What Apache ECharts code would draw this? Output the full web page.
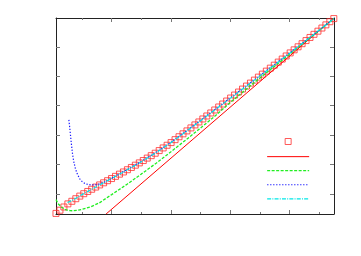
<!DOCTYPE html>
<html>
<head>
<meta charset="utf-8">
<script src="https://cdn.jsdelivr.net/npm/echarts@6/dist/echarts.min.js"></script>
<style>
html,body{margin:0;padding:0;background:#fff;}
#c{width:361px;height:256px;}
</style>
</head>
<body>
<div id="c"></div>
<script>
// ---- data ----
const markerX = [0.12,0.254,0.388,0.522,0.656,0.79,0.924,1.058,1.192,1.326,1.46,1.594,1.728,1.862,1.996,2.13,2.264,2.398,2.532,2.666,2.8,2.934,3.068,3.202,3.336,3.47,3.604,3.738,3.872,4.006,4.14,4.274,4.408,4.542,4.676,4.81,4.944,5.078,5.212,5.346,5.48,5.614,5.748,5.882,6.016,6.15,6.284,6.418,6.552,6.686,6.82,6.954,7.088,7.222,7.356,7.49,7.624,7.758,7.892,8.026,8.16,8.294,8.428,8.562,8.696,8.83,8.964,9.098,9.232,9.366,9.5];
const markerY = [0.33,0.439,0.549,0.655,0.743,0.831,0.92,1.002,1.078,1.153,1.228,1.301,1.373,1.445,1.518,1.593,1.668,1.743,1.819,1.896,1.974,2.052,2.132,2.215,2.298,2.381,2.471,2.562,2.653,2.744,2.844,2.943,3.042,3.142,3.244,3.346,3.447,3.549,3.651,3.753,3.855,3.957,4.058,4.16,4.262,4.364,4.466,4.568,4.67,4.771,4.873,4.975,5.077,5.179,5.281,5.382,5.487,5.591,5.696,5.8,5.905,6.009,6.114,6.22,6.327,6.434,6.541,6.648,6.756,6.863,6.97];

const asymX = [1.812, 9.5];
const asymY = [0.31, 6.99];

const greenX = [0.122,0.2,0.3,0.4,0.5,0.6,0.7,0.85,1.0,1.3,1.586,2.0,2.5,3.0,3.5,4.0,4.5,5.0,5.5,6.0,7.0,8.0,9.0,9.5];
const greenY = [0.80,0.65,0.55,0.48,0.44,0.425,0.42,0.435,0.47,0.56,0.69,0.97,1.31,1.67,2.04,2.43,2.83,3.24,3.66,4.11,4.94,5.75,6.56,6.97];

const blueX = [0.555,0.58,0.61,0.64,0.68,0.72,0.78,0.85,0.93,1.0,1.1,1.2,1.3,1.4,1.5,1.6,1.8,2.0,2.5,3.0,3.5,4.0,5.0,6.0,7.0,8.0,9.0,9.5];
const blueY = [3.52,3.30,3.00,2.70,2.35,2.10,1.84,1.65,1.50,1.42,1.35,1.315,1.30,1.30,1.31,1.34,1.42,1.53,1.81,2.10,2.41,2.75,3.50,4.26,5.02,5.79,6.57,6.97];

const cyanX = [0.51,0.7,1.0,1.5,2.0,2.5,3.0,3.5,4.0,4.5,5.0,6.0,7.0,8.0,9.0,9.5];
const cyanY = [0.70,0.79,0.97,1.25,1.52,1.80,2.09,2.40,2.74,3.11,3.49,4.25,5.01,5.78,6.57,6.97];

const xMajorTicks = [2,4,6,8];
const xMinorTicks = [1,3,5,7,9];
const yTicks = [1,2,3,4,5,6];

const seriesNames = ['exact','leading','order 1','order 2','order 3'];

// ---- chart ----
const XMIN = 0.121, XMAX = 9.506, YMIN = 0.31, YMAX = 6.99;
const zip = (a, b) => a.map((v, i) => [v, b[i]]);

function xAxisDef(pos, ticks, len, showLine) {
  return {
    type: 'value', min: XMIN, max: XMAX, position: pos,
    axisLine: {show: showLine, onZero: false, lineStyle: {color: '#222', width: 1}},
    axisTick: {show: true, inside: true, length: len, customValues: ticks, lineStyle: {color: '#777', width: 1}},
    axisLabel: {show: false}, splitLine: {show: false}
  };
}
function yAxisDef(pos) {
  return {
    type: 'value', min: YMIN, max: YMAX, position: pos,
    axisLine: {show: true, onZero: false, lineStyle: {color: '#222', width: 1}},
    axisTick: {show: true, inside: true, length: 4, customValues: yTicks, lineStyle: {color: '#777', width: 1}},
    axisLabel: {show: false}, splitLine: {show: false}
  };
}

const hideSym = {opacity: 0};
const chart = echarts.init(document.getElementById('c'), null, {renderer: 'canvas'});
chart.setOption({
  animation: false,
  backgroundColor: '#fff',
  grid: {left: 56, right: 27, top: 18, bottom: 42, containLabel: false},
  xAxis: [
    xAxisDef('bottom', xMajorTicks, 4, true),
    xAxisDef('bottom', xMinorTicks, 2, false),
    xAxisDef('top', xMajorTicks, 4, true),
    xAxisDef('top', xMinorTicks, 2, false)
  ],
  yAxis: [yAxisDef('left'), yAxisDef('right')],
  legend: {
    orient: 'vertical', left: 266.5, top: 138, padding: 0,
    itemWidth: 42, itemHeight: 6, itemGap: 9.25,
    formatter: () => '',
    textStyle: {fontSize: 6, lineHeight: 6},
    data: [
      {name: seriesNames[0], icon: 'path://M0,0L10,0L10,10L0,10Z',
       itemStyle: {color: 'rgba(0,0,0,0)', borderColor: '#ff3030', borderWidth: 1}},
      {name: seriesNames[1], itemStyle: hideSym, lineStyle: {width: 1}},
      {name: seriesNames[2], itemStyle: hideSym, lineStyle: {width: 1.3}},
      {name: seriesNames[3], itemStyle: hideSym, lineStyle: {width: 1.2}},
      {name: seriesNames[4], itemStyle: hideSym, lineStyle: {width: 1.2}}
    ]
  },
  series: [
    {name: seriesNames[0], type: 'scatter', xAxisIndex: 0, yAxisIndex: 0,
     data: zip(markerX, markerY), symbol: 'rect', symbolSize: 6,
     itemStyle: {color: 'rgba(0,0,0,0)', borderColor: '#ff3030', borderWidth: 1, opacity: 0.8}},
    {name: seriesNames[1], type: 'line', data: zip(asymX, asymY), symbol: 'none', showSymbol: false,
     lineStyle: {color: '#ff0000', width: 1}, itemStyle: {color: '#ff0000'}},
    {name: seriesNames[2], type: 'line', data: zip(greenX, greenY), symbol: 'none', showSymbol: false,
     lineStyle: {color: '#22ee22', width: 1.3, type: [3, 1.5]}, itemStyle: {color: '#22ee22'}},
    {name: seriesNames[3], type: 'line', data: zip(blueX, blueY), symbol: 'none', showSymbol: false,
     lineStyle: {color: '#1a1aff', width: 1.2, type: [1.3, 1.7]}, itemStyle: {color: '#1a1aff'}},
    {name: seriesNames[4], type: 'line', data: zip(cyanX, cyanY), symbol: 'none', showSymbol: false,
     lineStyle: {color: '#00e8e8', width: 1.2, type: [4, 1.2, 1, 1.2]}, itemStyle: {color: '#00e8e8'}}
  ]
});
</script>
</body>
</html>
